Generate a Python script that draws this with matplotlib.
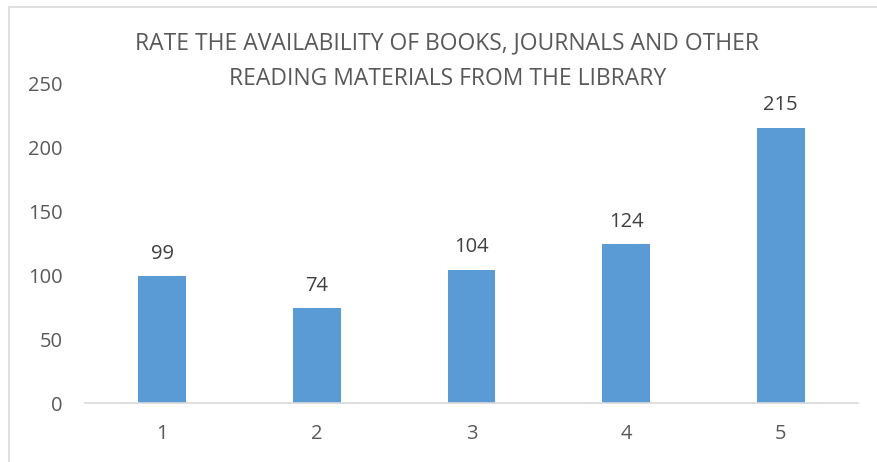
import matplotlib.pyplot as plt
from matplotlib.patches import Rectangle

categorias = ['1', '2', '3', '4', '5']
valores = [99, 74, 104, 124, 215]
titulo = 'RATE THE AVAILABILITY OF BOOKS, JOURNALS AND OTHER\nREADING MATERIALS FROM THE LIBRARY'

cor_barra = '#5B9BD5'
cor_texto = '#595959'

plt.rcParams['font.family'] = ['Open Sans', 'DejaVu Sans']

fig = plt.figure(figsize=(8.77, 4.62), dpi=100)
ax = fig.add_axes([0.0969, 0.1277, 0.8814, 0.6926])

x = range(len(categorias))
barras = ax.bar(x, valores, width=0.31, color=cor_barra)
for b, v in zip(barras, valores):
    ax.annotate(str(v), (b.get_x() + b.get_width() / 2, v), xytext=(0, 9),
                textcoords='offset points', ha='center', va='bottom',
                fontsize=14.5, color='#404040')

ax.set_xlim(-0.5, len(categorias) - 0.5)
ax.set_ylim(0, 250)
ax.set_yticks(range(0, 251, 50))
ax.set_xticks(list(x))
ax.set_xticklabels(categorias)
ax.tick_params(length=0, labelsize=14.5, labelcolor=cor_texto)
ax.tick_params(axis='y', pad=16)
ax.tick_params(axis='x', pad=15)
for lado in ['top', 'right', 'left']:
    ax.spines[lado].set_visible(False)
ax.spines['bottom'].set_color('#D9D9D9')
ax.spines['bottom'].set_linewidth(1.2)
ax.set_facecolor('none')

fig.text(0.51, 0.868, titulo, ha='center', va='center', fontsize=16.5,
         color=cor_texto, linespacing=1.65)

# moldura do gráfico
fig.patches.append(Rectangle((9 / 877, -0.1), 1.2, 1.1 - 7 / 462, transform=fig.transFigure,
                             fill=False, edgecolor='#D9D9D9', linewidth=1.2))

fig.savefig('out.png', dpi=100)
